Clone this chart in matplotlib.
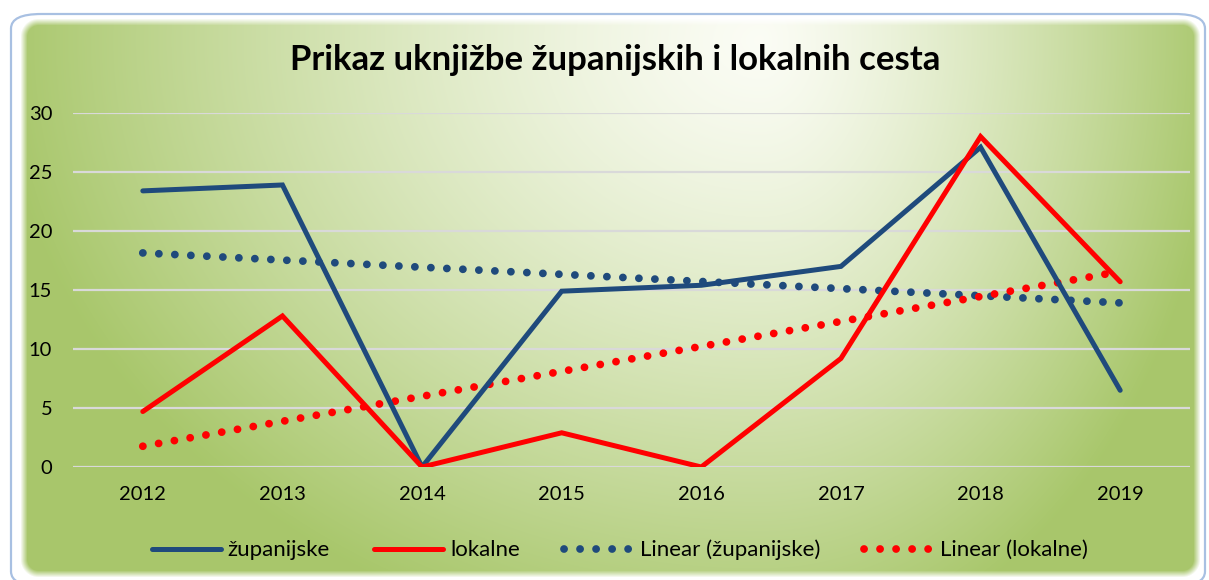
import numpy as np
import matplotlib
matplotlib.use("Agg")
import matplotlib.pyplot as plt
from matplotlib.patches import FancyBboxPatch

plt.rcParams['font.family'] = ['Lato', 'DejaVu Sans']

years = [2012, 2013, 2014, 2015, 2016, 2017, 2018, 2019]
zupanijske = [23.4, 23.9, 0.0, 14.9, 15.4, 17.0, 27.1, 6.5]
lokalne = [4.7, 12.8, 0.0, 2.9, 0.0, 9.2, 28.0, 15.7]
title = "Prikaz uknjižbe županijskih i lokalnih cesta"
yticks = [0, 5, 10, 15, 20, 25, 30]

W, H = 1209, 580
fig = plt.figure(figsize=(W / 100, H / 100), dpi=100)
fig.patch.set_facecolor('white')

# ---- background gradient panel ----
yy, xx = np.mgrid[0:H, 0:W].astype(float)
cx, cy = 760.0, 40.0
rx = np.where(xx < cx, 760.0, 460.0)
ry = 620.0
r = np.sqrt(((xx - cx) / rx) ** 2 + ((yy - cy) / ry) ** 2)
t = np.clip(r, 0, 1) ** 1.3
c0 = np.array([0.985, 0.99, 0.96])
c1 = np.array([0.66, 0.78, 0.42])
rgb = c0[None, None, :] * (1 - t[..., None]) + c1[None, None, :] * t[..., None]
x0, x1, y0, y1, rad = 20.0, 1200.0, 18.0, 577.0, 18.0
qx = np.abs(xx - (x0 + x1) / 2) - ((x1 - x0) / 2 - rad)
qy = np.abs(yy - (y0 + y1) / 2) - ((y1 - y0) / 2 - rad)
outside = np.sqrt(np.maximum(qx, 0) ** 2 + np.maximum(qy, 0) ** 2) + np.minimum(np.maximum(qx, qy), 0) - rad
alpha = np.clip(-outside / 7.0, 0, 1)
rgba = np.dstack([rgb, alpha])
fig.figimage(rgba, xo=0, yo=0, origin='upper', zorder=-5)

border = FancyBboxPatch((11 / W, -6 / H), (1194) / W, (580 - 14 + 6) / H,
                        boxstyle="round,pad=0,rounding_size=0.025",
                        transform=fig.transFigure, facecolor='none',
                        edgecolor='#a8c0e2', linewidth=1.6, zorder=-4)
fig.patches.append(border)

# ---- main axes ----
ax = fig.add_axes([73 / W, 113 / H, (1190 - 73) / W, (467 - 113) / H])
ax.set_zorder(2)
ax.set_facecolor('none')
ax.set_xlim(2011.5, 2019.5)
ax.set_ylim(0, 30)
ax.set_yticks(yticks)
ax.set_xticks(years)
ax.yaxis.grid(True, color='#d9d9d9', linewidth=1.6)
ax.set_axisbelow(True)
for s in ax.spines.values():
    s.set_visible(False)
ax.tick_params(axis='both', length=0, labelsize=14.5, colors='black')
ax.tick_params(axis='y', pad=15)
ax.tick_params(axis='x', pad=14)

blue = '#1f4a7c'
red = '#ff0000'
x = np.array(years, dtype=float)
pz = np.polyfit(x, zupanijske, 1)
pl = np.polyfit(x, lokalne, 1)

l1, = ax.plot(years, zupanijske, color=blue, lw=3.6, solid_capstyle='round',
              solid_joinstyle='miter', label='županijske', zorder=4)
l2, = ax.plot(years, lokalne, color=red, lw=3.6, solid_capstyle='round',
              solid_joinstyle='miter', label='lokalne', zorder=5)
l3, = ax.plot(x, np.polyval(pz, x), color=blue, lw=5.6, dashes=(0.01, 2.05),
              dash_capstyle='round', label='Linear (županijske)', zorder=3)
l4, = ax.plot(x, np.polyval(pl, x), color=red, lw=5.6, dashes=(0.01, 2.05),
              dash_capstyle='round', label='Linear (lokalne)', zorder=3)

fig.text(615 / W, 1 - 60 / H, title, ha='center', va='center',
         fontsize=25, fontweight='bold', color='black')

leg = fig.legend(handles=[l1, l2, l3, l4], loc='center', ncol=4,
                 bbox_to_anchor=(620 / W, 1 - 550 / H), frameon=False,
                 fontsize=16, handlelength=3.1, handletextpad=0.3,
                 columnspacing=2.0)
leg.set_zorder(3)

fig.savefig('out.png', dpi=100)
